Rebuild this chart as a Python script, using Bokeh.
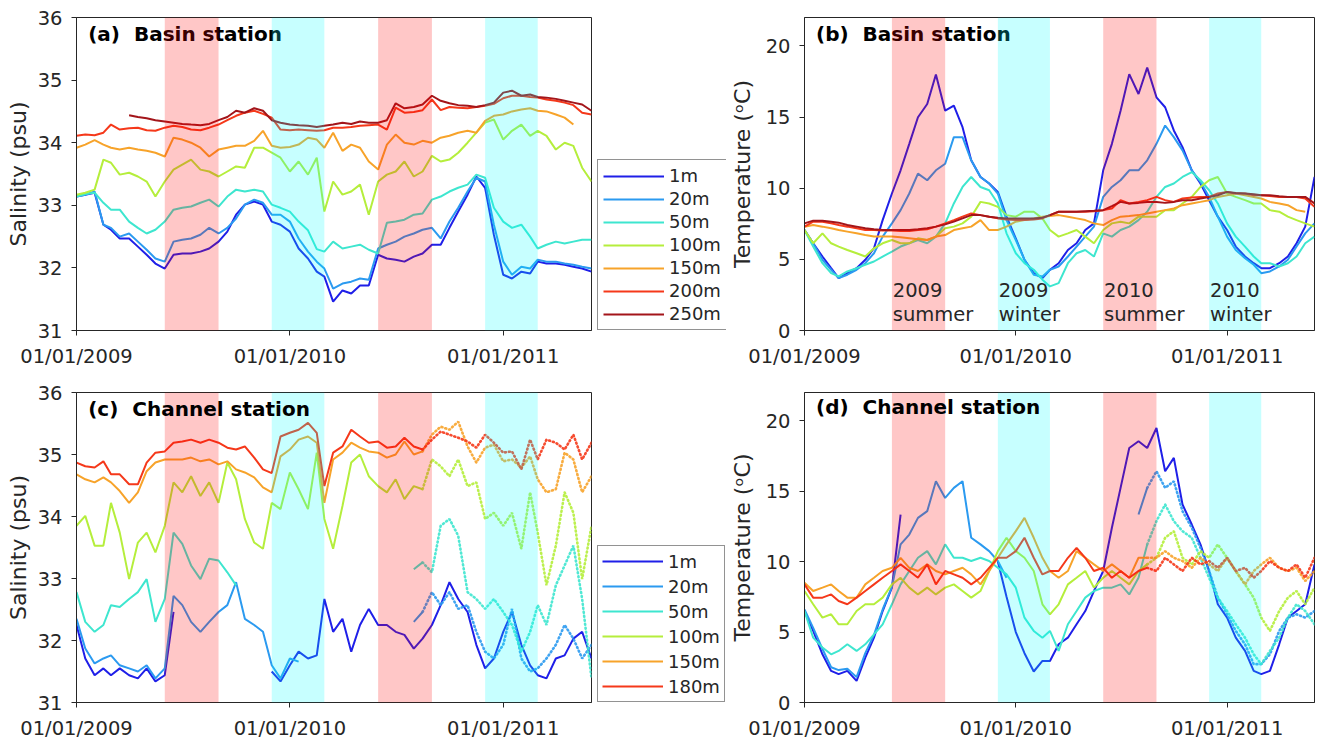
import numpy as np
import pandas as pd
from bokeh.plotting import figure
from bokeh.layouts import gridplot
from bokeh.models import (Range1d, FixedTicker, Legend, LegendItem, BoxAnnotation, Label)
from bokeh.embed import file_html
from bokeh.resources import INLINE

# ---------------- data ----------------
ORIGIN = "2009-01-01"
X_END = "2011-06-01"
DATES = []
for _y in (2009, 2010, 2011):
    for _m in range(1, 13):
        for _d in (1, 16):
            if (_y, _m) > (2011, 5):
                continue
            DATES.append(f"{_y}-{_m:02d}-{_d:02d}")
DATES.append("2011-06-01")

XTICK_DATES = ["2009-01-01", "2010-01-01", "2011-01-01"]
XTICK_LABELS = ["01/01/2009", "01/01/2010", "01/01/2011"]
SUMMERS = [("2009-06-01", "2009-09-01"), ("2010-06-01", "2010-09-01")]
WINTERS = [("2009-12-01", "2010-03-01"), ("2010-12-01", "2011-03-01")]
SEASON_LABELS = [("2009", "summer", "2009-06-01"), ("2009", "winter", "2009-12-01"),
                 ("2010", "summer", "2010-06-01"), ("2010", "winter", "2010-12-01")]
DOTTED_FROM = "2010-08-16"

BASIN_DEPTHS = ["1m", "20m", "50m", "100m", "150m", "200m", "250m"]
CHANNEL_DEPTHS = ["1m", "20m", "50m", "100m", "150m", "180m"]

# (a) Basin salinity
A_1M = [33.14,33.17,33.20,32.69,32.61,32.47,32.47,32.34,32.21,32.07,
        31.99,32.21,32.23,32.23,32.26,32.31,32.42,32.58,32.85,33.01,
        33.06,33.01,32.74,32.69,32.58,32.31,32.15,31.94,31.86,31.46,
        31.64,31.59,31.72,31.72,32.21,32.15,32.13,32.10,32.18,32.23,
        32.37,32.37,32.64,32.90,33.17,33.46,33.28,32.53,31.89,31.83,
        31.94,31.91,32.10,32.07,32.07,32.05,32.02,31.99,31.94]
A_20M = [33.14,33.17,33.22,32.69,32.64,32.50,32.55,32.42,32.29,32.15,
         32.10,32.42,32.45,32.47,32.53,32.64,32.55,32.64,32.79,33.01,
         33.09,33.04,32.85,32.85,32.74,32.47,32.26,32.10,31.99,31.67,
         31.75,31.78,31.83,31.81,32.31,32.37,32.42,32.50,32.55,32.61,
         32.64,32.47,32.74,32.96,33.22,33.44,33.38,32.69,32.10,31.89,
         32.02,31.99,32.13,32.10,32.10,32.07,32.05,32.02,31.99]
A_50M = [33.14,33.18,33.20,33.04,32.93,32.93,32.74,32.64,32.55,32.61,
         32.74,32.93,32.96,32.98,33.04,33.09,32.98,33.14,33.25,33.22,
         33.25,33.22,33.01,32.96,32.90,32.74,32.60,32.30,32.26,32.42,
         32.31,32.34,32.37,32.29,32.23,32.72,32.74,32.77,32.85,32.87,
         33.09,33.14,33.22,33.28,33.33,33.49,33.44,32.96,32.74,32.64,
         32.69,32.50,32.31,32.37,32.42,32.39,32.42,32.45,32.45]
A_100M = [33.17,33.20,33.25,33.73,33.68,33.49,33.52,33.46,33.38,33.14,
          33.38,33.57,33.65,33.73,33.57,33.54,33.46,33.54,33.62,33.60,
          33.92,33.92,33.84,33.76,33.54,33.70,33.49,33.76,32.90,33.38,
          33.17,33.22,33.33,32.85,33.38,33.49,33.54,33.70,33.46,33.54,
          33.79,33.70,33.73,33.84,34.00,34.16,34.32,34.37,34.05,34.19,
          34.29,34.11,34.19,34.11,33.89,34.00,33.95,33.60,33.38]
A_150M = [33.92,33.97,34.04,33.97,33.92,33.89,33.92,33.89,33.87,33.84,
          33.78,34.08,34.05,34.00,33.92,33.78,33.89,33.92,33.95,33.95,
          34.03,34.19,33.95,33.92,33.93,33.97,34.08,34.05,33.92,34.16,
          33.87,33.97,33.92,33.70,33.57,33.97,34.13,34.00,33.97,34.03,
          34.00,34.08,34.11,34.16,34.19,34.16,34.35,34.43,34.45,34.50,
          34.53,34.55,34.51,34.50,34.45,34.40,34.29,None,None]
A_200M = [34.11,34.13,34.12,34.16,34.29,34.21,34.23,34.24,34.20,34.19,
          34.24,34.27,34.25,34.21,34.20,34.24,34.29,34.36,34.43,34.48,
          34.51,34.46,34.40,34.21,34.20,34.21,34.20,34.19,34.20,34.24,
          34.24,34.25,34.27,34.28,34.29,34.21,34.56,34.48,34.49,34.52,
          34.69,34.52,34.57,34.56,34.55,34.57,34.59,34.62,34.71,34.75,
          34.75,34.73,34.72,34.69,34.67,34.64,34.60,34.48,34.45]
A_250M = [None,None,None,None,None,None,34.44,34.41,34.39,34.36,
          34.34,34.32,34.30,34.29,34.28,34.30,34.36,34.41,34.51,34.48,
          34.55,34.51,34.36,34.32,34.29,34.28,34.27,34.25,34.27,34.29,
          34.32,34.30,34.34,34.32,34.32,34.36,34.63,34.55,34.57,34.61,
          34.75,34.67,34.63,34.60,34.59,34.57,34.60,34.64,34.80,34.83,
          34.75,34.77,34.73,34.72,34.70,34.67,34.64,34.61,34.51]

# (b) Basin temperature
B_1M = [7.06,6.13,5.20,4.38,3.68,4.03,4.38,4.97,5.78,7.76,
        9.63,11.26,13.12,14.99,15.92,18.00,15.45,15.80,14.29,11.96,
        10.79,10.33,9.74,8.00,6.48,4.97,4.03,3.68,4.27,4.73,
        5.66,6.13,7.06,7.53,11.26,13.12,15.45,18.02,16.62,18.48,
        16.39,15.69,14.06,12.89,11.26,10.33,9.16,8.00,7.06,5.90,
        5.20,4.73,4.38,4.38,4.73,5.20,6.13,7.30,10.79]
B_20M = [7.06,6.13,4.97,4.27,3.68,3.92,4.27,4.73,5.43,6.60,
         7.53,8.46,9.63,11.03,10.56,11.26,11.72,13.59,13.59,11.96,
         10.79,10.33,9.63,7.76,6.36,4.97,3.92,3.80,4.27,4.50,
         5.20,5.90,6.60,7.30,9.39,10.09,10.56,11.26,11.26,11.96,
         13.12,14.41,13.59,12.66,11.26,10.44,9.39,8.00,6.60,5.66,
         5.08,4.62,4.03,4.15,4.50,4.97,5.90,6.83,7.53]
B_50M = [7.06,5.90,4.73,4.03,3.80,4.15,4.38,4.62,4.85,5.20,
         5.55,5.90,6.13,6.36,6.13,6.60,7.53,8.93,10.09,10.79,
         10.09,9.86,8.93,6.83,5.43,4.73,4.27,3.57,3.10,3.33,
         4.73,5.43,5.66,5.20,6.83,6.60,7.06,7.30,7.76,8.35,
         9.39,10.09,10.33,10.79,11.14,10.56,9.86,8.93,7.53,6.60,
         5.90,5.20,4.73,4.73,4.50,4.73,5.20,6.13,6.60]
B_100M = [7.06,6.13,6.83,6.13,5.90,5.66,5.43,5.20,5.78,6.13,
          6.36,6.13,6.13,6.48,6.36,6.60,7.18,7.30,7.53,8.00,
          9.04,8.93,8.69,8.11,8.00,8.35,8.35,7.88,7.06,6.60,
          6.83,7.06,6.60,6.13,7.06,7.53,7.65,7.53,8.00,8.00,
          8.00,8.46,8.46,8.93,9.39,10.09,10.56,10.79,9.63,9.39,
          9.16,8.93,8.93,8.46,8.35,8.00,7.76,7.53,7.30]
B_150M = [7.30,7.41,7.30,7.18,7.06,6.95,6.83,6.71,6.60,6.60,
          6.60,6.55,6.48,6.41,6.36,6.60,6.71,7.06,7.18,7.30,
          7.76,7.06,7.06,7.30,7.65,7.76,7.88,8.00,8.04,8.11,
          8.00,7.88,7.76,7.53,7.41,7.76,8.00,8.04,8.11,8.23,
          8.35,8.46,8.58,8.81,8.93,9.04,9.16,9.39,9.51,9.63,
          9.51,9.39,9.28,9.04,8.93,8.81,8.46,8.35,None]
B_200M = [7.30,7.65,7.65,7.53,7.41,7.30,7.18,7.06,7.06,7.02,
          7.02,6.99,6.99,7.06,7.11,7.30,7.53,7.76,8.00,8.23,
          8.11,8.00,7.88,7.81,7.76,7.76,7.81,7.88,8.11,8.35,
          8.35,8.35,8.35,8.39,8.46,8.58,9.16,8.93,9.04,9.16,
          9.39,9.16,9.04,9.28,9.35,9.39,9.39,9.63,9.74,9.63,
          9.63,9.51,9.51,9.46,9.39,9.39,9.39,9.28,8.69]
B_250M = [7.53,7.72,7.72,7.65,7.58,7.41,7.30,7.18,7.11,7.06,
          7.06,7.06,7.06,7.11,7.18,7.30,7.46,7.65,7.88,8.11,
          8.11,8.00,7.93,7.88,7.88,7.88,7.88,7.93,8.11,8.35,
          8.35,8.35,8.39,8.41,8.46,8.74,9.04,8.93,8.97,9.04,
          9.04,8.97,9.04,9.16,9.16,9.28,9.39,9.51,9.74,9.67,
          9.63,9.58,9.51,9.51,9.44,9.39,9.39,9.39,8.93]

# (c) Channel salinity
C_1M = [32.25,31.71,31.44,31.55,31.44,31.55,31.44,31.39,31.55,31.34,
        31.44,32.46,None,None,None,None,None,None,None,None,
        None,None,31.50,31.34,31.60,31.82,31.71,31.76,32.67,32.14,
        32.35,31.82,32.25,32.51,32.25,32.25,32.14,32.09,31.87,32.03,
        32.25,32.57,32.94,32.67,32.46,31.93,31.55,31.71,32.14,32.46,
        31.93,31.60,31.44,31.39,31.71,31.76,32.03,32.14,31.71]
C_20M = [32.35,31.87,31.63,31.71,31.76,31.60,31.55,31.50,31.60,31.39,
         31.55,32.72,32.57,32.30,32.14,32.30,32.46,32.57,32.94,32.35,
         32.25,32.14,31.60,31.39,31.71,31.66,None,None,None,None,
         None,None,None,None,None,None,None,None,32.30,32.46,
         32.78,32.57,32.78,32.51,32.57,32.14,31.82,31.71,31.93,32.51,
         31.71,31.50,31.55,31.71,31.93,32.25,32.03,31.71,31.93]
C_50M = [32.78,32.30,32.14,32.25,32.57,32.54,32.67,32.78,32.99,32.30,
         32.67,33.74,33.56,33.21,32.99,33.32,33.29,33.10,32.89,None,
         None,None,None,None,None,None,None,None,None,None,
         None,None,None,None,None,None,None,None,33.15,33.26,
         33.10,33.85,33.96,33.69,32.78,32.67,32.51,32.67,32.46,32.25,
         31.82,32.14,32.57,32.25,32.89,33.21,33.53,32.67,31.39]
C_100M = [33.85,34.01,33.53,33.53,34.22,33.74,32.99,33.58,33.74,33.42,
          33.85,34.55,34.39,34.65,34.33,34.55,34.22,34.87,34.60,33.96,
          33.58,33.48,34.22,34.12,34.71,34.44,34.12,35.03,33.96,33.48,
          34.17,34.87,35.00,34.65,34.49,34.39,34.60,34.28,34.49,34.44,
          34.92,34.81,34.65,34.92,34.49,34.55,33.96,34.06,33.85,34.06,
          33.48,34.39,33.74,32.89,33.53,34.39,34.06,32.99,33.85]
C_150M = [34.68,34.60,34.55,34.63,34.55,34.41,34.22,34.39,34.73,34.87,
          34.92,34.92,34.92,34.95,34.89,34.92,34.84,34.89,34.76,34.71,
          34.63,34.47,34.39,34.97,35.08,35.24,35.29,35.19,34.22,34.92,
          35.03,35.19,35.11,35.05,35.03,34.95,35.00,35.21,35.00,35.05,
          35.32,35.45,35.40,35.53,35.13,34.87,35.11,35.16,34.89,34.92,
          34.79,34.97,34.60,34.39,34.44,35.03,34.92,34.39,34.65]
C_180M = [34.87,34.81,34.79,34.89,34.68,34.68,34.52,34.52,34.87,35.03,
          35.05,35.19,35.21,35.24,35.19,35.24,35.19,35.11,35.08,35.13,
          34.95,34.76,34.70,35.29,35.35,35.40,35.51,35.35,34.49,35.03,
          35.13,35.40,35.29,35.19,35.21,35.11,35.13,35.27,35.13,35.08,
          35.24,35.37,35.32,35.27,35.21,35.11,35.32,35.19,35.03,35.05,
          34.76,35.24,34.92,35.24,35.19,35.08,35.32,34.92,35.19]

# (d) Channel temperature
D_1M = [6.49,5.08,3.42,2.24,2.01,2.24,1.53,3.19,4.60,6.49,
        8.15,13.34,None,None,None,None,None,None,None,None,
        None,None,10.00,7.50,5.00,3.50,2.20,2.95,2.95,4.13,
        4.60,5.55,6.49,7.91,9.33,12.40,15.23,18.06,18.54,18.06,
        19.48,16.41,17.36,14.05,12.63,11.22,9.33,6.97,6.02,4.60,
        3.66,2.24,2.01,2.24,4.13,6.02,6.49,6.97,9.80]
D_20M = [6.60,5.30,3.80,2.50,2.30,2.40,1.80,3.50,4.80,6.60,
         8.20,11.22,11.92,13.10,13.58,15.70,14.52,15.23,15.70,11.69,
         11.22,10.74,10.04,8.85,None,None,None,None,None,None,
         None,None,None,None,None,None,None,None,13.34,15.23,
         16.41,15.23,15.70,13.58,12.40,10.98,9.33,7.44,6.26,5.08,
         4.13,2.72,2.72,3.42,5.08,6.02,6.26,6.02,6.49]
D_50M = [6.49,4.60,3.90,3.42,3.66,4.13,3.66,4.13,4.84,5.55,
         6.97,8.38,9.33,10.27,10.74,9.80,11.22,10.27,10.27,10.04,
         10.27,10.04,9.56,9.09,8.15,6.02,5.08,4.60,5.08,3.66,
         5.55,6.49,7.44,7.91,8.15,8.15,8.38,7.67,8.85,11.22,
         12.87,14.05,12.87,12.16,11.69,10.27,8.85,7.44,6.49,5.55,
         4.60,3.42,2.72,3.66,4.60,6.02,6.97,6.49,5.55]
D_100M = [7.91,6.97,6.02,6.26,5.55,5.55,6.49,6.97,6.97,7.44,
          8.38,8.85,8.15,7.67,8.15,7.67,8.15,8.38,7.91,7.44,
          7.91,9.33,10.74,11.69,10.74,10.27,9.33,6.97,6.26,6.97,
          8.38,8.85,9.33,8.15,8.85,9.33,8.85,8.38,9.33,9.80,
          10.27,11.69,12.16,10.27,9.80,10.74,10.27,11.22,10.27,9.33,
          8.38,7.44,6.02,5.08,6.49,7.44,7.91,6.97,8.15]
D_150M = [8.50,7.91,8.15,8.38,7.91,7.44,7.44,8.38,8.85,9.33,
          9.56,10.27,9.56,9.33,9.80,9.33,9.09,9.33,9.56,9.09,
          8.38,9.33,10.27,11.22,12.16,13.10,11.69,10.27,9.33,8.85,
          9.33,10.74,10.27,9.80,9.33,9.80,9.33,8.85,10.27,10.27,
          10.27,10.74,10.27,10.04,9.56,10.27,9.80,9.33,10.27,9.33,
          8.38,9.33,9.80,10.27,9.56,9.33,9.56,8.62,9.33]
D_180M = [8.38,7.44,7.44,7.67,7.20,6.97,7.44,7.91,8.38,8.85,
          9.33,9.80,9.33,8.85,9.80,8.38,9.33,9.09,8.85,8.38,
          8.85,9.56,10.27,10.27,10.74,11.69,10.27,9.09,9.33,9.33,
          10.27,10.98,10.27,9.33,9.56,8.85,9.33,8.85,9.33,9.56,
          9.33,10.27,9.80,9.33,10.27,9.80,10.04,9.56,10.27,9.33,
          9.56,8.85,9.33,10.04,9.56,9.33,9.80,8.85,10.27]

# ---------------- styling ----------------
AX = "#262626"
FONT = "DejaVu Sans"
COLORS = {"1m": "#1f1fe8", "20m": "#2b9af0", "50m": "#3ee6cf", "100m": "#b5ee3c",
          "150m": "#f7a32a", "200m": "#f5381a", "180m": "#f5381a", "250m": "#a3151a"}


def day(s):
    return float((pd.Timestamp(s) - pd.Timestamp(ORIGIN)).days)


XD = np.array([day(s) for s in DATES])
DOT_I = DATES.index(DOTTED_FROM)


def arr(v):
    return np.array([np.nan if a is None else a for a in v], dtype=float)


def style_axis(ax, ylabel=None, label_standoff=6):
    ax.axis_line_color = AX
    ax.major_tick_line_color = AX
    ax.minor_tick_line_color = None
    ax.major_tick_in = 0
    ax.major_tick_out = 5
    ax.major_label_text_font = FONT
    ax.major_label_text_color = AX
    ax.major_label_text_font_size = "19.5px"
    ax.major_label_standoff = 9
    if ylabel:
        ax.axis_label = ylabel
        ax.axis_label_text_font = FONT
        ax.axis_label_text_font_size = "22px"
        ax.axis_label_text_font_style = "normal"
        ax.axis_label_text_color = AX
        ax.axis_label_standoff = label_standoff


def make_panel(width, height, borders, yr, yticks, ylabel, series, depths,
               title, title_y, title_under_bands, dotted=False, season_text=False,
               label_standoff=6):
    l, r, t, b = borders
    p = figure(width=width, height=height,
               x_range=Range1d(day(ORIGIN), day(X_END)), y_range=Range1d(*yr),
               output_backend="svg", toolbar_location=None,
               min_border_left=l, min_border_right=r, min_border_top=t, min_border_bottom=b)
    p.xgrid.visible = False
    p.ygrid.visible = False
    p.outline_line_color = AX
    p.outline_line_alpha = 1.0
    p.background_fill_color = "white"
    p.border_fill_color = "white"

    xt = [day(s) for s in XTICK_DATES]
    bx = p.below[0]
    bx.ticker = FixedTicker(ticks=xt)
    bx.major_label_overrides = {v: lab for v, lab in zip(xt, XTICK_LABELS)}
    style_axis(bx)
    ly = p.left[0]
    ly.ticker = FixedTicker(ticks=yticks)
    style_axis(ly, ylabel, label_standoff)

    for name in depths:
        v = arr(series[name])
        c = COLORS[name]
        if dotted and name != "1m":
            solid = v.copy()
            solid[DOT_I + 1:] = np.nan
            p.line(XD, solid, line_color=c, line_width=2.0)
            dv = v.copy()
            dv[:DOT_I] = np.nan
            p.line(XD, dv, line_color=c, line_width=2.6, line_dash="1 3",
                   line_cap="round", line_alpha=0.9)
        else:
            p.line(XD, v, line_color=c, line_width=2.0)

    title_lbl = Label(x=day("2009-01-21"), y=title_y, text=title, text_font=FONT,
                      text_font_style="bold", text_font_size="20px",
                      text_baseline="middle", text_color="black")
    if title_under_bands:
        p.add_layout(title_lbl)
    for s, e in SUMMERS:
        p.add_layout(BoxAnnotation(left=day(s), right=day(e), fill_color="#ff0000",
                                   fill_alpha=0.22, line_alpha=0))
    for s, e in WINTERS:
        p.add_layout(BoxAnnotation(left=day(s), right=day(e), fill_color="#00ffff",
                                   fill_alpha=0.22, line_alpha=0))
    if not title_under_bands:
        p.add_layout(title_lbl)

    if season_text:
        for yr_txt, season, start in SEASON_LABELS:
            for txt, yy in ((yr_txt, 2.87), (season, 1.12)):
                p.add_layout(Label(x=day(start) + 1.5, y=yy, text=txt, text_font=FONT,
                                   text_font_size="19.5px", text_baseline="middle",
                                   text_color=AX))
    return p


def legend_panel(width, height, depths, loc, row_h, spacing, pad):
    lf = figure(width=width, height=height, x_range=Range1d(0, 1), y_range=Range1d(0, 1),
                output_backend="svg", toolbar_location=None,
                x_axis_location=None, y_axis_location=None,
                min_border_left=0, min_border_right=0, min_border_top=0, min_border_bottom=0)
    lf.xgrid.visible = False
    lf.ygrid.visible = False
    lf.outline_line_color = None
    lf.background_fill_color = "white"
    lf.border_fill_color = "white"
    items = []
    for name in depths:
        # legend key only: a single NaN point, nothing is drawn in the frame
        r = lf.line(x=[np.nan], y=[np.nan], line_color=COLORS[name], line_width=2.0)
        items.append(LegendItem(label=name, renderers=[r]))
    leg = Legend(items=items, location=loc, glyph_width=61, glyph_height=row_h,
                 label_height=row_h, label_width=50, spacing=spacing, padding=pad, margin=0,
                 label_standoff=5, label_text_font=FONT, label_text_font_size="18px",
                 label_text_color=AX, border_line_color=AX, border_line_width=1,
                 background_fill_color="white", background_fill_alpha=1.0)
    lf.add_layout(leg)
    return lf


BASIN_SAL = {"1m": A_1M, "20m": A_20M, "50m": A_50M, "100m": A_100M,
             "150m": A_150M, "200m": A_200M, "250m": A_250M}
BASIN_TEM = {"1m": B_1M, "20m": B_20M, "50m": B_50M, "100m": B_100M,
             "150m": B_150M, "200m": B_200M, "250m": B_250M}
CHAN_SAL = {"1m": C_1M, "20m": C_20M, "50m": C_50M, "100m": C_100M,
            "150m": C_150M, "180m": C_180M}
CHAN_TEM = {"1m": D_1M, "20m": D_20M, "50m": D_50M, "100m": D_100M,
            "150m": D_150M, "180m": D_180M}

AW, LGW, RW = 592, 134, 595
TH, BH = 371, 371

pa = make_panel(AW, TH, (76, 1, 17, 41), (31, 36), [31, 32, 33, 34, 35, 36],
                "Salinity (psu)", BASIN_SAL, BASIN_DEPTHS,
                "(a)\u00a0 Basin station", 35.74, True, label_standoff=4)
la = legend_panel(LGW, TH, BASIN_DEPTHS, (5, 0), 20, 2, 5)
pb = make_panel(RW, TH, (74, 7, 17, 41), (0, 22), [0, 5, 10, 15, 20],
                "Temperature (\u1d52C)", BASIN_TEM, BASIN_DEPTHS,
                "(b)\u00a0 Basin station", 20.87, True, season_text=True,
                label_standoff=8)
pc = make_panel(AW, BH, (76, 1, 21, 40), (31, 36), [31, 32, 33, 34, 35, 36],
                "Salinity (psu)", CHAN_SAL, CHANNEL_DEPTHS,
                "(c)\u00a0 Channel station", 35.74, False, dotted=True,
                label_standoff=4)
lc = legend_panel(LGW, BH, CHANNEL_DEPTHS, (5, 0), 22, 3, 4)
pd_ = make_panel(RW, BH, (74, 7, 21, 40), (0, 22), [0, 5, 10, 15, 20],
                 "Temperature (\u1d52C)", CHAN_TEM, CHANNEL_DEPTHS,
                 "(d)\u00a0 Channel station", 20.94, False, dotted=True,
                 label_standoff=8)

grid = gridplot([[pa, la, pb], [pc, lc, pd_]], toolbar_location=None)
open("out.html", "w").write(file_html(grid, INLINE))
